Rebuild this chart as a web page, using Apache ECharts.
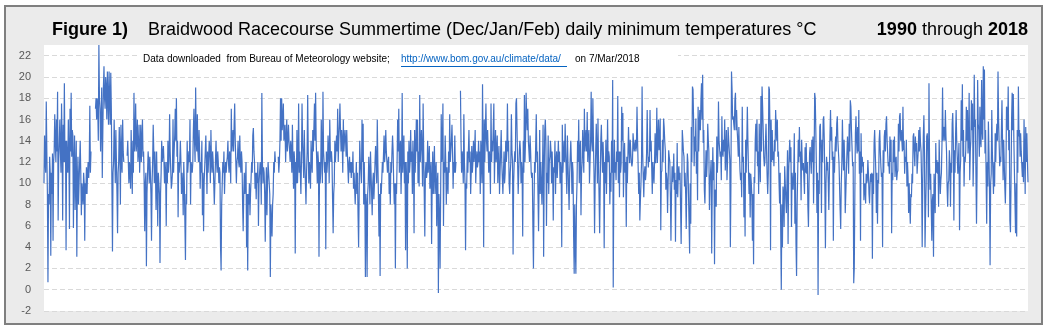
<!DOCTYPE html>
<html>
<head>
<meta charset="utf-8">
<script src="https://cdn.jsdelivr.net/npm/echarts@6/dist/echarts.min.js"></script>
<style>
html,body{margin:0;padding:0;background:#ffffff;}
#chart{width:1049px;height:334px;}
</style>
</head>
<body>
<div id="chart"></div>
<script>
// ---- Data: daily minimum temperatures (°C), one array per summer ----
const seasonYears = [1990,1991,1992,1993,1994,1995,1996,1997,1998,1999,2000,2001,2002,2003,2004,2005,2006,2007,2008,2009,2010,2011,2012,2013,2014,2015,2016,2017,2018];

const s1990 = [10,14.5,12, 11,17.7,13, 9,0.7,9, 8,12.5,11, 3.2,11,9, 12.8,4.6,12, 13,16.5,14, 12,16,13, 18.6,6.5,12, 14,16,13, 11,17.5,14, 6.5,15.5,12, 19.4,12,14, 3.7,14,12, 11,16,13, 5.7,17,13, 18.5,12.5,15, 14.5,5.8,12, 14.5,7.5,11, 14,3.1,10];
const s1991 = [12.5,8,10, 12,14,11, 7,10,9, 8,11,10, 4.6,10,9, 11.5,9,11, 12,10.5,12, 17.3,11,13, null,null,null, null,null,null, null,17,18, 16,18,17, 14,23,18, 17,13,16, 19,10.5,15, 19,21,18, 17,20,19, 16,20.5,18, 15.5,20.5,18, 15.5,20.4,17];
const s1992 = [10,3.6,11, 12,16,13, 10,15,12, 9,5.3,11, 12,15.3,13, 8,15.5,12, 11,16,13, 12,null,null, null,null,null, 12.6,14,12, 10,12,11, 9.5,15,12, 9,14,11, 18.5,13,14, 17.5,13,14, 16,12,13, 15.5,11,13, 15.5,12,14, 16,12.5,13, 10,5.5,10];
const s1993 = [11,2.2,9, 11,13,12, 10,12.5,11, 9,4.6,10, 12,15.5,13, 10,13,11, 7.5,13,10, 6,11,10, 9,2.5,9, 11,14,12, 12,13.5,12, 10,12,11, 6,12,10, 14,11,12, 16.5,13,13, 9.5,10,11, 16,11,13, 14.5,17,14, 18,12.5,14, 6.8,12,11];
const s1994 = [12,14,12, 9,11,10, 7,12,10, 10,2.8,9, 8,14,11, 11,13,12, 16,8,12, 12,11,12, 15,17,14, 12,19,14, 13,16.5,13, 12,15,13, 9.5,12,11, 14,7,11, 5.5,10,10, 13,14.5,12, 9,13,11, 12.5,14,13, 10,15,12, 11,13,12];
const s1995 = [10,8,10, 12,14,12, 11,13,12, 10,11.5,11, 4,1.8,8, 10,12,11, 13,9,11, 12,11,12, 12.5,14,12, 11,13,12, 10,17,13, 14,15,13, 15.5,17.5,14, 14,10,12, 12.5,14,12, 11.5,14.5,12, 11,13,12, 8,5.5,9, 11,9,10, 12,4,9];
const s1996 = [1.8,9,8, 10,7,9, 10.5,12,11, 14.5,15.2,13, 12,9.5,11, 8.5,11,10, 12,6,10, 10,12,11, 8,18.5,12, 10,11.5,11, 9,4.5,9, 11.5,7,10, 12,11,11, 9,1.2,8, 8,5,8, 9,12,11, 13,12,12, null,null,null, 12.5,11,12, 14,18,14];
const s1997 = [18,15,16, 17.5,14,15, 15.5,12,14, 16,13,14, 15.5,14,13, 12,14,13, 11,15.5,12, 9.5,13,12, 3.4,12,10, 15,10,12, 17.5,11,13, 13,9,12, 17.5,14,14, 10.5,15,12, 12,8,11, 13,18.3,13, 10,12,11, 9.5,14,12, 11,15,13, 13,17.5,14];
const s1998 = [18.5,14,14, 10,13,12, 3.1,12,10, 11,16,13, 10,18.6,13, 13,11,12, 3.8,13,11, 12,14.5,13, 10,16,13, 12,13,12, 8.5,5.3,9, 10,14,12, 12,14.5,13, 17,12,14, 15.5,17.5,15, 13,15,14, 11,16,13, 13,15,14, 12.5,15,13, 13,10,12];
const s1999 = [12.5,11,12, 10.5,12,11, 13,9.5,11, 11,8,10, 12,9,11, 7,4,9, 14,12,12, 10,16,12, 15.6,8,12, 9,1.2,9, 8,1.2,9, 10,12.5,11, 8,13,11, 11,7,10, 11,8.5,10, 12,13.5,12, 10,16,12, 9,5,9, 1.3,10,9, 9,12,11];
const s2000 = [11,14.5,12, 13,15,13, 12,11,12, 12.5,9,11, 8,12,11, 13,14.5,13, 10,8,10, 2,10,9, 12,16,13, 17,11,13, 14,9,12, 18.5,11,13, 14.5,10,12, 3.7,12,10, 2,13,10, 14,11,12, 15,12,13, 9,14,12, 5.3,15,11, 13,16,13];
const s2001 = [16,10,13, 9.7,18.3,12, 12,15,13, 9.7,17.5,13, 13,5,11, 12,10.5,11, 14,11,12, 13.5,9.5,11, 12,4.3,10, 13,9,11, 13.5,9,11, 12,6,10, 11,-0.3,9, 7,2,9, 16.5,12,13, 17.5,6,12, 11,14.5,12, 8,11.5,10, 9,13,11, 16.5,12,13];
const s2002 = [14,15.5,13, 9.5,12,11, 14.5,11,12, null,null,null, null,null,null, null,18.7,14, 11,13,12, 10,16.5,12, 10,3.7,10, 9.5,13,11, 11,15,12, 13,9,11, 13.5,11,12, 14,12,13, 15,10,12, 13,11.5,12, 14,12,13, 9,14,12, 10,19.3,13, 4,16,12];
const s2003 = [12,17.5,14, 13,15,13, 11,13,12, 9,17.5,12, 14,13,13, 17.5,10,13, 15,12,13, 14.5,10,12, 13.5,9,11, 11,15,12, 12,9,11, 13,10,11, 14,12,13, 17.5,13,14, 10,9,11, 12,16.5,13, 12,3.3,10, 12,13,12, 17.5,18,15, 12,9,11];
const s2004 = [13,14,13, 10,12,11, 5,14,11, 18.3,12,14, 18.5,16.5,15, 17,14,14, 12,14.5,13, 11,10.5,11, 6,2,8, 12,11,11, 16.5,12,13, 9,5.5,10, 15,9,12, 12,8,11, 15.5,3.1,11, 15,16,14, 6,11,10, 14.5,9,12, 12.5,14,13, 10,13,11];
const s2005 = [6.5,11.5,11, 14,9,12, 13,10.5,12, 14,12,13, 10,12,11, 4,15.5,11, 11,14,12, 15.6,13,13, 9,14.5,12, 12,7.5,11, 12.5,14,12, 9,12,11, 5,1.5,8, 4,1.5,8, 10,14,12, 16,10,13, 14,7,11, 12,15,13, 11,17,13, 13,15,13];
const s2006 = [16.7,12,14, 15,10,12, 14,18.6,14, 13,18,14, 11,5.3,10, 13,15.6,13, 10,16.1,12, 12,5.3,10, 14,15.5,13, 11,13.9,12, 3.9,12,10, 14.1,9,12, 16,12,13, 12.5,8,11, 9.2,14,11, 19.7,0.2,10, 14.1,11,12, 10.3,13,12, 18.2,10,13, 8.7,13,11];
const s2007 = [11.9,17.2,14, 16.6,8.7,12, 13.8,11,12, 5.9,12.5,10, 12.8,15.3,13, 11.9,14.1,13, 12,11.6,12, 14.7,13.8,13, 13.1,14.1,13, 13.4,17.2,14, 11.6,9,11, 6.5,8.4,10, 12,19.1,13, 10.6,8.7,11, 11.6,10.3,11, 13,16.9,13, 11.5,12.5,12, 16.9,13,14, 14.1,9,12, 12,10,12];
const s2008 = [14.7,11.9,13, 17.1,11.9,14, 16,13.1,14, 16.1,5.6,11, 11.2,14.1,12, 16.1,15.3,14, 13.1,9.4,11, 10.3,7.2,10, 13.1,12.5,12, 8.7,4.6,9, 11.6,10.1,11, 12.8,9.4,11, 4.5,10.3,9, 13.8,8.7,11, 11.6,10.3,11, 7.8,4.3,9, 15,14.1,13, 12.5,9.7,11, 9,5.7,10, 12.8,11.9,12];
const s2009 = [12,3.4,10, 6.2,15.3,12, 19.1,18.8,16, 11.6,14.4,13, 16.1,10.9,13, 8.4,17.2,13, 15.6,16.9,15, 17.8,19.4,16, 20.2,13.8,15, 9.4,8.1,11, 13.1,10.6,12, 15.6,14.1,13, 7.5,10.3,11, 12.2,3.4,10, 13.4,10.3,12, 2.4,9.4,9, 7.8,14.4,11, 12.5,17.7,14, 14.1,12.5,13, 10.3,16.3,13];
const s2010 = [12.5,14.1,13, 16,11.2,13, 15,10.3,12, 15.3,14.1,14, 12.2,4,10, 20.5,18.8,16, 16.3,15.6,15, 17.8,18.5,15, 16.9,15,14, 12.5,15.3,13, 11.2,10.3,11, 8.7,17.2,12, 12.5,6.8,11, 5,14.1,11, 13.8,17.2,14, 11.2,9,11, 6.8,10.9,10, 8.7,4.6,9, 2.4,10.6,10, 14.1,15.6,13];
const s2011 = [16,11.6,13, 9,15.6,12, 10.1,18.2,13, 19.1,17.2,15, 12.5,11.6,12, 13.8,15.6,13, 10.6,9,11, 19.1,18.8,15, 3.7,16,12, 15,12.2,13, 11.6,14.1,13, 16.9,15.3,14, 16,12.5,13, 10.1,8.1,11, 11,0,8, 4,9.7,9, 5.9,11.6,10, 8.4,7.2,10, 13.1,4.3,11, 12.8,14.1,12];
const s2012 = [13.4,5.9,11, 10.9,9.4,11, 14.7,6.2,11, 4.3,1.3,8, 10.9,14.1,12, 15.3,12.5,13, 8.4,14.1,12, 11.2,11.9,12, 9,13.4,11, 13.8,10.9,12, 7.8,5.9,10, 12.8,13.4,12, 10.9,14.1,12, 14.4,8.1,12, 18.5,18,15, 11.6,7.2,11, -0.5,10.3,9, 15.3,15.6,13, 7.2,14.1,12, 16,16.3,14];
const s2013 = [9.4,3.9,10, 12.5,11.2,12, 10.1,7.5,11, 14.4,16.9,14, 15.3,12.2,13, 4.6,12.5,11, 13.1,14.4,13, 15.6,16.3,14, 14.1,11.9,12, 7.5,5.7,10, 11.9,16,13, 11.2,14.1,12, 7.2,9,11, 12.8,14.4,13, 10.9,15.6,13, 17.8,17.2,15, 13.4,11.6,12, 0.6,2.1,9, 14.7,16.3,14, 12.8,15.3,13];
const s2014 = [16.9,10.9,13, 4.6,14.7,11, 12.5,11.6,12, 8.4,9.7,10, 8.1,10.9,10, 10.3,12.2,11, 9,8.1,10, 10.9,10.1,11, 2.9,10.9,9, 13.8,15,13, 11.2,7.2,11, 6.2,10.3,10, 14.1,15,13, 11.6,10.6,11, 4,13.1,11, 14.4,15,13, 15.6,16.3,14, 14.1,11.6,12, 10.9,14.4,12, 14.1,5.3,11];
const s2015 = [10.3,14.1,12, 14.4,10.6,12, 12.5,10.3,11, 11.2,15.6,13, 16.3,16.6,14, 15,14.1,13, 17.2,13.1,14, 10.9,12.5,12, 14.1,9.7,12, 10.6,7.2,10, 7.8,6.2,9, 8.7,10.9,10, 14.4,14.7,13, 11.6,14.4,13, 13.8,10.9,12, 13.1,15,13, 15.3,13.8,13, 10.1,4,10, 14.4,16.4,13, 4,7.2,10];
const s2016 = [14.4,14.7,13, 6.8,19.4,12, 9.4,10.9,11, 4.6,8.4,9, 3.1,10.9,9, 7.2,13.8,11, 12.2,10.9,12, 7.8,14.1,11, 9,10.3,11, 13.8,19,14, 15,15.3,14, 16.9,14.4,13, 9.7,7.8,10, 10.3,13.1,12, 7.8,11.9,11, 15.6,16.6,14, 6.5,13.1,11, 14.4,16.9,14, 14.1,10.9,12, 13.8,5.6,11];
const s2017 = [12.2,17.8,14, 19.3,12.5,15, 9.7,12.5,12, 13.1,17.2,14, 16.9,12.8,14, 18.5,10.3,13, 14.1,17.8,15, 17.5,9.7,13, 20.2,15.3,16, 10.9,6.2,11, 19.7,15.6,15, 12.5,17.2,14, 13.4,19.7,15, 14.1,21,16, 20.7,12.8,15, 15,6.2,12, 9.7,15.8,13, 9,2.3,10, 10.9,16.9,13, 13.1,9,12];
const s2018 = [9.7,14.7,12, 14.4,15.6,14, 20.5,16,16, 11.6,12.5,12, 15,17.8,14, 10.3,14.1,12, 9.7,8.1,11, 17.2,16.9,15, 19.1,13.1,15, 6.5,5.4,10, 16,18.5,15, 18.4,14.1,14, 8.1,5.3,10, 5,15,11, 19.1,14.4,15, 12.5,14.7,13, 13.1,10.6,12, 10.1,16,13, 9,15.3,12, 14.7,12,10.1];

const seasonValues = [s1990,s1991,s1992,s1993,s1994,s1995,s1996,s1997,s1998,s1999,s2000,s2001,s2002,s2003,s2004,s2005,s2006,s2007,s2008,s2009,s2010,s2011,s2012,s2013,s2014,s2015,s2016,s2017,s2018];

// y axis range / ticks
const yMin = -2, yMax = 23, yStep = 2;

// text
const figLabel = 'Figure 1)';
const titleText = 'Braidwood Racecourse Summertime (Dec/Jan/Feb) daily minimum temperatures °C';
const rangeFrom = '1990', rangeWord = ' through ', rangeTo = '2018';
const noteText = 'Data downloaded  from Bureau of Meteorology website;';
const linkText = 'http://www.bom.gov.au/climate/data/';
const dateText = 'on 7/Mar/2018';

// ---- build ----
const categories = [];
const temps = [];
seasonValues.forEach((arr, si) => {
  arr.forEach((v, i) => { categories.push(seasonYears[si] + '-' + (i + 1)); temps.push(v); });
});

function hasFont(name){
  const c = document.createElement('canvas').getContext('2d');
  const s = 'abcdefghijklmnopqrstuvwxyzABCDEFGHIJ0123456789';
  c.font = '40px monospace'; const w0 = c.measureText(s).width;
  c.font = '40px "' + name + '", monospace'; const w1 = c.measureText(s).width;
  return Math.abs(w1 - w0) > 0.5;
}
const narrow = hasFont('Liberation Sans Narrow');
const F = narrow ? '"Liberation Sans Narrow", "Liberation Sans", Arial, sans-serif' : '"Liberation Sans", Arial, sans-serif';
const titleSize = narrow ? 21.5 : 18;
const noteSize = narrow ? 12 : 10;

const chart = echarts.init(document.getElementById('chart'), null, {renderer: 'canvas'});
chart.setOption({
  animation: false,
  backgroundColor: '#ffffff',
  grid: {left: 44, right: 21, top: 45, bottom: 23, show: true, backgroundColor: '#ffffff', borderWidth: 0, containLabel: false},
  xAxis: {
    type: 'category', data: categories, boundaryGap: false,
    axisLine: {show: false}, axisTick: {show: false}, axisLabel: {show: false}, splitLine: {show: false}
  },
  yAxis: {
    type: 'value', min: yMin, max: yMax, interval: yStep,
    axisLine: {show: false}, axisTick: {show: false},
    axisLabel: {show: true, showMaxLabel: false, color: '#595959', fontSize: 11, fontFamily: '"Liberation Sans", Arial, sans-serif', margin: 13},
    splitLine: {show: true, showMaxLine: false, lineStyle: {color: '#d9d9d9', width: 1, type: [5, 3]}}
  },
  series: [{
    type: 'line', data: temps, showSymbol: false, symbol: 'none', connectNulls: false,
    lineStyle: {color: '#4472C4', width: 1.2}, itemStyle: {color: '#4472C4'}, z: 5, sampling: null
  }],
  graphic: [
    {type: 'rect', z: -10, silent: true, shape: {x: 5, y: 6, width: 1037, height: 318}, style: {fill: '#ebebeb', stroke: '#7f7f7f', lineWidth: 2}},
    {type: 'rect', z: -5, silent: true, shape: {x: 44, y: 45, width: 984, height: 266}, style: {fill: '#ffffff'}},
    {type: 'rect', z: 1, silent: true, shape: {x: 140, y: 50, width: 538, height: 18}, style: {fill: '#ffffff'}},
    {type: 'text', z: 10, left: 52, top: 21, style: {text: figLabel, font: 'bold ' + titleSize + 'px ' + F, fill: '#000000'}},
    {type: 'text', z: 10, left: 148, top: 21, style: {text: titleText, font: titleSize + 'px ' + F, fill: '#000000'}},
    {type: 'text', z: 10, right: 21, top: 21, style: {
      text: '{b|' + rangeFrom + '}{n|' + rangeWord + '}{b|' + rangeTo + '}',
      rich: {b: {font: 'bold ' + titleSize + 'px ' + F, fill: '#000'}, n: {font: titleSize + 'px ' + F, fill: '#000'}}
    }},
    {type: 'text', z: 10, left: 143, top: 54, style: {text: noteText, font: noteSize + 'px ' + F, fill: '#000000'}},
    {type: 'text', z: 10, left: 401, top: 54, style: {text: linkText, font: noteSize + 'px ' + F, fill: '#0563C1'}},
    {type: 'line', z: 10, shape: {x1: 401, y1: 66.5, x2: 567, y2: 66.5}, style: {stroke: '#0563C1', lineWidth: 1}},
    {type: 'text', z: 10, left: 575, top: 54, style: {text: dateText, font: noteSize + 'px ' + F, fill: '#000000'}}
  ]
});
</script>
</body>
</html>
